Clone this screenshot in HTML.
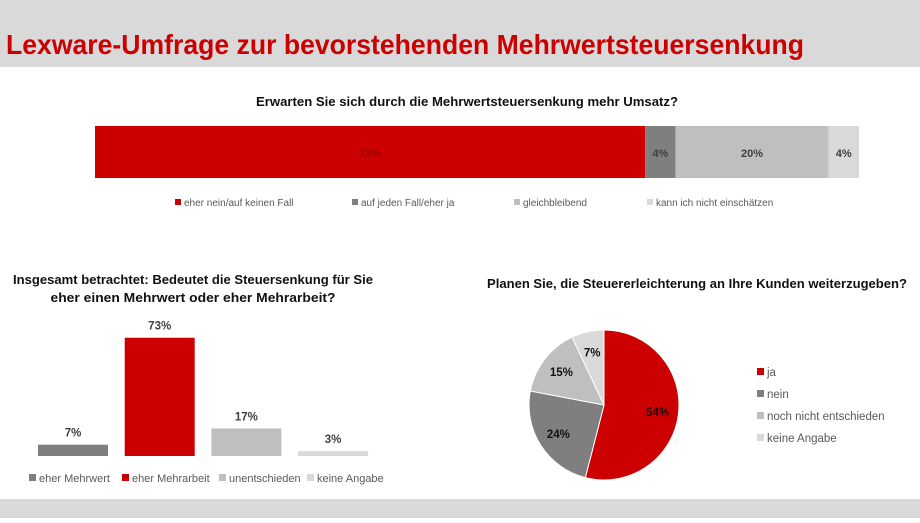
<!DOCTYPE html>
<html><head><meta charset="utf-8"><style>
body{margin:0;width:920px;height:518px;overflow:hidden;background:#fff;font-family:"Liberation Sans",sans-serif;}
</style></head><body>
<svg width="920" height="518" viewBox="0 0 920 518">
<rect x="0" y="0" width="920" height="67" fill="#d9d9d9"/>
<rect x="0" y="499" width="920" height="19" fill="#d9d9d9"/>
<text x="6" y="54" font-size="28" font-weight="bold" fill="#cc0000" textLength="798" lengthAdjust="spacingAndGlyphs">Lexware-Umfrage zur bevorstehenden Mehrwertsteuersenkung</text>
<text x="467" y="106" font-size="12.5" font-weight="bold" text-anchor="middle" fill="#111" textLength="422" lengthAdjust="spacingAndGlyphs">Erwarten Sie sich durch die Mehrwertsteuersenkung mehr Umsatz?</text>
<g id="c1"></g>
<text x="193" y="284" font-size="12.5" font-weight="bold" text-anchor="middle" fill="#111" textLength="360" lengthAdjust="spacingAndGlyphs">Insgesamt betrachtet: Bedeutet die Steuersenkung für Sie</text>
<text x="193" y="302" font-size="12.5" font-weight="bold" text-anchor="middle" fill="#111" textLength="285" lengthAdjust="spacingAndGlyphs">eher einen Mehrwert  oder eher Mehrarbeit?</text>
<g id="c2"></g>
<text x="697" y="288" font-size="12.5" font-weight="bold" text-anchor="middle" fill="#111" textLength="420" lengthAdjust="spacingAndGlyphs">Planen Sie, die Steuererleichterung an Ihre Kunden weiterzugeben?</text>
<g id="c3"></g>
</svg>
<script>
const c1Cats=["eher nein/auf keinen Fall","auf jeden Fall/eher ja","gleichbleibend","kann ich nicht einschätzen"];
const c1Vals=[72,4,20,4];
const c2Cats=["eher Mehrwert","eher Mehrarbeit","unentschieden","keine Angabe"];
const c2Vals=[7,73,17,3];
const c3Cats=["ja","nein","noch nicht entschieden","keine Angabe"];
const c3Vals=[54,24,15,7];
const NS="http://www.w3.org/2000/svg";
function mk(p,t,a,txt){const e=document.createElementNS(NS,t);for(const k in a)e.setAttribute(k,a[k]);if(txt!==undefined)e.textContent=txt;p.appendChild(e);return e;}
// chart 1
const g1=document.getElementById('c1');
const cols1=["#cc0000","#7f7f7f","#bfbfbf","#d9d9d9"];
const tot1=c1Vals.reduce((a,b)=>a+b,0);
const x1=v=>95+v/tot1*764;
let acc=0;
c1Vals.forEach((v,i)=>{
 const r=mk(g1,'rect',{x:x1(acc),y:126,width:x1(acc+v)-x1(acc),height:52,fill:cols1[i]});
 
 
 const t=mk(g1,'text',{x:(x1(acc)+x1(acc+v))/2,y:157,'font-size':11,'font-weight':'bold','text-anchor':'middle',fill:i==0?'#a00000':'#404040'},v+'%');
 
 
 acc+=v;
});
const lx1=[175,352,514,647];
c1Cats.forEach((c,i)=>{
 const s=mk(g1,'rect',{x:lx1[i],y:199,width:6,height:6,fill:cols1[i]});
 
 
 const t=mk(g1,'text',{x:lx1[i]+9,y:206,'font-size':10,fill:'#595959'},c);
 
 
});
// chart 2
const g2=document.getElementById('c2');
const cols2=["#7f7f7f","#cc0000","#bfbfbf","#d9d9d9"];
const y2=v=>456-v*1.62;
c2Vals.forEach((v,i)=>{
 const x=38+i*86.7;
 const r=mk(g2,'rect',{x:x,y:y2(v),width:70,height:456-y2(v),fill:cols2[i]});
 
 
 const t=mk(g2,'text',{x:x+35,y:y2(v)-8,'font-size':11.5,'font-weight':'bold','text-anchor':'middle',fill:'#404040'},v+'%');
 
 
});
const lx2=[29,122,219,307];
c2Cats.forEach((c,i)=>{
 const s=mk(g2,'rect',{x:lx2[i],y:474,width:7,height:7,fill:cols2[i]});
 
 
 const t=mk(g2,'text',{x:lx2[i]+10,y:482,'font-size':11,fill:'#595959'},c);
 
 
});
// chart 3
const g3=document.getElementById('c3');
const cols3=["#cc0000","#7f7f7f","#bfbfbf","#d9d9d9"];
const cx=604,cy=405,R=75;
const tot3=c3Vals.reduce((a,b)=>a+b,0);
let a0=0;
c3Vals.forEach((v,i)=>{
 const s=a0/tot3*2*Math.PI,e=(a0+v)/tot3*2*Math.PI;
 const p=(a)=>[cx+R*Math.sin(a),cy-R*Math.cos(a)];
 const [sx,sy]=p(s),[ex,ey]=p(e);
 const path=mk(g3,'path',{d:`M${cx},${cy}L${sx},${sy}A${R},${R} 0 ${e-s>Math.PI?1:0} 1 ${ex},${ey}Z`,fill:cols3[i],stroke:'#fff','stroke-width':1});
 
 
 const m=(s+e)/2,rr=R*0.72;
 const t=mk(g3,'text',{x:cx+rr*Math.sin(m),y:cy-rr*Math.cos(m)+4,'font-size':11.5,'font-weight':'bold','text-anchor':'middle',fill:'#111'},v+'%');
 
 
 a0+=v;
});
c3Cats.forEach((c,i)=>{
 const y=368+i*22;
 const s=mk(g3,'rect',{x:757,y:y,width:7,height:7,fill:cols3[i]});
 
 
 const t=mk(g3,'text',{x:767,y:y+8,'font-size':11.5,fill:'#595959'},c);
 
 
});
</script>
</body></html>
